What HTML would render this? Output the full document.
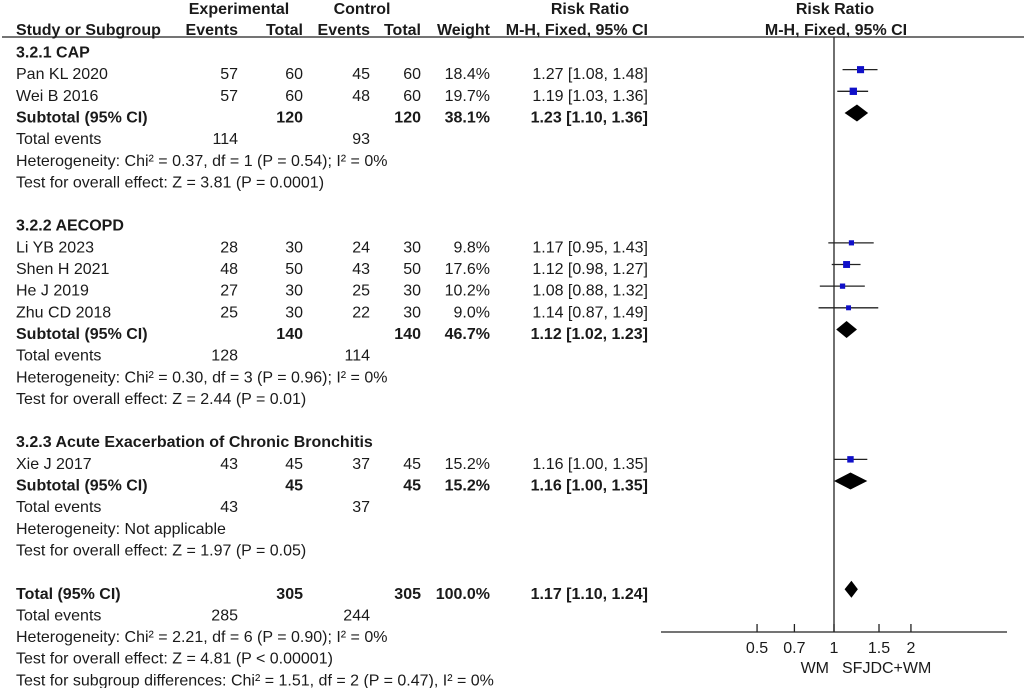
<!DOCTYPE html>
<html><head><meta charset="utf-8">
<style>
html,body{margin:0;padding:0;background:#fff;}
svg{display:block;font-family:"Liberation Sans",Arial,sans-serif;font-size:16px;fill:#1a1a1a;}
.b{font-weight:bold;}
</style></head>
<body>
<svg id="chart" width="1024" height="688" viewBox="0 0 1024 688">
<g>
<text x="239" y="14" text-anchor="middle" class="b">Experimental</text>
<text x="362" y="14" text-anchor="middle" class="b">Control</text>
<text x="590" y="14" text-anchor="middle" class="b">Risk Ratio</text>
<text x="16" y="35" class="b">Study or Subgroup</text>
<text x="238" y="35" text-anchor="end" class="b">Events</text>
<text x="303" y="35" text-anchor="end" class="b">Total</text>
<text x="370" y="35" text-anchor="end" class="b">Events</text>
<text x="421" y="35" text-anchor="end" class="b">Total</text>
<text x="490" y="35" text-anchor="end" class="b">Weight</text>
<text x="648" y="35" text-anchor="end" class="b">M-H, Fixed, 95% CI</text>
<text x="835" y="14" text-anchor="middle" class="b">Risk Ratio</text>
<text x="836" y="35" text-anchor="middle" class="b">M-H, Fixed, 95% CI</text>
<line x1="2" y1="37" x2="1024" y2="37" stroke="#222" stroke-width="1.3"/>
</g>
<g id="rows"></g>
<g id="plot"></g>
</svg>
<script>
// rows: [rowIndex, label, bold, expEv, expTot, ctrlEv, ctrlTot, weight, ci]
const tableRows = [
 [0,"3.2.1 CAP",1,"","","","","",""],
 [1,"Pan KL 2020",0,"57","60","45","60","18.4%","1.27 [1.08, 1.48]"],
 [2,"Wei B 2016",0,"57","60","48","60","19.7%","1.19 [1.03, 1.36]"],
 [3,"Subtotal (95% CI)",1,"","120","","120","38.1%","1.23 [1.10, 1.36]"],
 [4,"Total events",0,"114","","93","","",""],
 [5,"Heterogeneity: Chi² = 0.37, df = 1 (P = 0.54); I² = 0%",0,"","","","","",""],
 [6,"Test for overall effect: Z = 3.81 (P = 0.0001)",0,"","","","","",""],
 [8,"3.2.2 AECOPD",1,"","","","","",""],
 [9,"Li YB 2023",0,"28","30","24","30","9.8%","1.17 [0.95, 1.43]"],
 [10,"Shen H 2021",0,"48","50","43","50","17.6%","1.12 [0.98, 1.27]"],
 [11,"He J 2019",0,"27","30","25","30","10.2%","1.08 [0.88, 1.32]"],
 [12,"Zhu CD 2018",0,"25","30","22","30","9.0%","1.14 [0.87, 1.49]"],
 [13,"Subtotal (95% CI)",1,"","140","","140","46.7%","1.12 [1.02, 1.23]"],
 [14,"Total events",0,"128","","114","","",""],
 [15,"Heterogeneity: Chi² = 0.30, df = 3 (P = 0.96); I² = 0%",0,"","","","","",""],
 [16,"Test for overall effect: Z = 2.44 (P = 0.01)",0,"","","","","",""],
 [18,"3.2.3 Acute Exacerbation of Chronic Bronchitis",1,"","","","","",""],
 [19,"Xie J 2017",0,"43","45","37","45","15.2%","1.16 [1.00, 1.35]"],
 [20,"Subtotal (95% CI)",1,"","45","","45","15.2%","1.16 [1.00, 1.35]"],
 [21,"Total events",0,"43","","37","","",""],
 [22,"Heterogeneity: Not applicable",0,"","","","","",""],
 [23,"Test for overall effect: Z = 1.97 (P = 0.05)",0,"","","","","",""],
 [25,"Total (95% CI)",1,"","305","","305","100.0%","1.17 [1.10, 1.24]"],
 [26,"Total events",0,"285","","244","","",""],
 [27,"Heterogeneity: Chi² = 2.21, df = 6 (P = 0.90); I² = 0%",0,"","","","","",""],
 [28,"Test for overall effect: Z = 4.81 (P < 0.00001)",0,"","","","","",""],
 [29,"Test for subgroup differences: Chi² = 1.51, df = 2 (P = 0.47), I² = 0%",0,"","","","","",""]
];
// study estimates
const studyRows = [1,2,9,10,11,12,19];
const studyRR = [1.27,1.19,1.17,1.12,1.08,1.14,1.16];
const studyLo = [1.08,1.03,0.95,0.98,0.88,0.87,1.00];
const studyHi = [1.48,1.36,1.43,1.27,1.32,1.49,1.35];
const studyWeight = [18.4,19.7,9.8,17.6,10.2,9.0,15.2];
// pooled estimates (diamonds)
const poolRows = [3,13,20,25];
const poolRR = [1.23,1.12,1.16,1.17];
const poolLo = [1.10,1.02,1.00,1.10];
const poolHi = [1.36,1.23,1.35,1.24];
const poolH = [17,17,17,17];
const tickValues = [0.5,0.7,1,1.5,2];
const tickLabels = ["0.5","0.7","1","1.5","2"];

const NS="http://www.w3.org/2000/svg";
const yRow = i => 52 + 21.65*i;
const xS = v => 834 + 111*Math.log(v);
function mk(tag, attrs, parent){const e=document.createElementNS(NS,tag);for(const k in attrs)e.setAttribute(k,attrs[k]);parent.appendChild(e);return e;}
const rowsG=document.getElementById('rows');
const cols=[[3,238],[4,303],[5,370],[6,421],[7,490],[8,648]];
tableRows.forEach(r=>{
  const y=yRow(r[0])+5.5;
  const t=mk('text',{x:16,y:y},rowsG);
  
  
  if(r[2]) t.setAttribute('class','b');
  t.textContent=r[1];
  cols.forEach(([ci,x])=>{
    if(r[ci]==="") return;
    const c=mk('text',{x:x,y:y,'text-anchor':'end'},rowsG);
    
    
    if(r[2]) c.setAttribute('class','b');
    c.textContent=r[ci];
  });
});
const pg=document.getElementById('plot');
const vl=mk('line',{x1:xS(1),y1:37,x2:xS(1),y2:632,stroke:'#222','stroke-width':1.3},pg);


const ax=mk('line',{x1:661,y1:632,x2:1007,y2:632,stroke:'#222','stroke-width':1.3},pg);


tickValues.forEach((v,i)=>{
  const tk=mk('line',{x1:xS(v),y1:624,x2:xS(v),y2:632,stroke:'#222','stroke-width':1.3},pg);
  
  
  const tl=mk('text',{x:xS(v),y:653,'text-anchor':'middle'},pg);
  
  
  tl.textContent=tickLabels[i];
});
const l1=mk('text',{x:829,y:673,'text-anchor':'end'},pg);


l1.textContent='WM';
const l2=mk('text',{x:842,y:673},pg);


l2.textContent='SFJDC+WM';
studyRows.forEach((ri,i)=>{
  const y=yRow(ri)-4;
  const ln=mk('line',{x1:xS(studyLo[i]),y1:y,x2:xS(studyHi[i]),y2:y,stroke:'#222','stroke-width':1.3},pg);
  
  
  const s=1.65*Math.sqrt(studyWeight[i]);
  const sq=mk('rect',{x:xS(studyRR[i])-s/2,y:y-s/2,width:s,height:s,fill:'#1010c8'},pg);
  
  
});
poolRows.forEach((ri,i)=>{
  const y=yRow(ri)-4, h=poolH[i]/2;
  const pts=[[xS(poolLo[i]),y],[xS(poolRR[i]),y-h],[xS(poolHi[i]),y],[xS(poolRR[i]),y+h]].map(p=>p.join(',')).join(' ');
  const d=mk('polygon',{points:pts,fill:'#000'},pg);
  
  
});
</script>
</body></html>
